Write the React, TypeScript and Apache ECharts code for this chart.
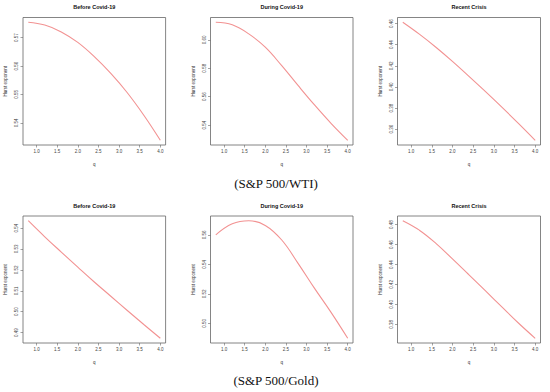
import React, { useEffect, useRef } from "react";
import * as echarts from "echarts";

// q grid
const qValues = [0.8, 1.2, 1.6, 2.0, 2.4, 2.8, 3.2, 3.6, 4.0];

// S&P 500 / WTI
const wtiBefore = [0.5754, 0.5744, 0.572, 0.5683, 0.5633, 0.5574, 0.5506, 0.5427, 0.5339];
const wtiDuring = [0.6124, 0.6106, 0.6042, 0.5948, 0.5818, 0.5677, 0.554, 0.5411, 0.5293];
const wtiRecent = [0.4613, 0.45, 0.4376, 0.4242, 0.41, 0.3955, 0.3806, 0.3653, 0.3495];

// S&P 500 / Gold
const goldBefore = [0.5435, 0.5358, 0.5285, 0.5213, 0.5142, 0.5074, 0.5006, 0.4939, 0.4873];
const goldDuring = [0.56, 0.5675, 0.5696, 0.5664, 0.5565, 0.5405, 0.5235, 0.5072, 0.4898];
const goldRecent = [0.484, 0.4745, 0.4613, 0.4457, 0.4297, 0.4135, 0.3972, 0.3811, 0.366];

// tick labels
const xTicks = [1.0, 1.5, 2.0, 2.5, 3.0, 3.5, 4.0];
const yTicksWtiBefore = [0.54, 0.55, 0.56, 0.57];
const yTicksWtiDuring = [0.54, 0.56, 0.58, 0.6];
const yTicksWtiRecent = [0.36, 0.38, 0.4, 0.42, 0.44, 0.46];
const yTicksGoldBefore = [0.49, 0.5, 0.51, 0.52, 0.53, 0.54];
const yTicksGoldDuring = [0.5, 0.52, 0.54, 0.56];
const yTicksGoldRecent = [0.38, 0.4, 0.42, 0.44, 0.46, 0.48];

const panelTitles = ["Before Covid-19", "During Covid-19", "Recent Crisis"];
const captions = ["(S&P 500/WTI)", "(S&P 500/Gold)"];

const panels = [
  { data: wtiBefore, ticks: yTicksWtiBefore, row: 0, col: 0 },
  { data: wtiDuring, ticks: yTicksWtiDuring, row: 0, col: 1 },
  { data: wtiRecent, ticks: yTicksWtiRecent, row: 0, col: 2 },
  { data: goldBefore, ticks: yTicksGoldBefore, row: 1, col: 0 },
  { data: goldDuring, ticks: yTicksGoldDuring, row: 1, col: 1 },
  { data: goldRecent, ticks: yTicksGoldRecent, row: 1, col: 2 },
];

const colLeft = [23, 210.5, 397.5];
const colWidth = [142.6, 142.5, 143];
const rowTop = [17.5, 216];
const rowHeight = [127.5, 127];
const titleY = [7, 205.5];
const captionY = [183, 380];

const FONT = "'Liberation Sans', Arial, sans-serif";

function padRange(vals: number[]) {
  const mn = Math.min(...vals);
  const mx = Math.max(...vals);
  const p = (mx - mn) * 0.04;
  return [mn - p, mx + p];
}

export default function App() {
  const ref = useRef<HTMLDivElement>(null);
  useEffect(() => {
    document.body.style.margin = "0";
    if (!ref.current) return;
    const chart = echarts.init(ref.current, undefined, { renderer: "svg" });
    const [xmin, xmax] = padRange(qValues);
    const grids: any[] = [];
    const xAxes: any[] = [];
    const yAxes: any[] = [];
    const series: any[] = [];
    const graphics: any[] = [];
    panels.forEach((p, i) => {
      grids.push({
        left: colLeft[p.col],
        top: rowTop[p.row],
        width: colWidth[p.col],
        height: rowHeight[p.row],
        show: true,
        borderColor: "#666",
        borderWidth: 0.8,
        backgroundColor: "transparent",
      });
      const [ymin, ymax] = padRange(p.data);
      xAxes.push({
        type: "value",
        gridIndex: i,
        min: xmin,
        max: xmax,
        name: "q",
        nameLocation: "middle",
        nameGap: 17,
        nameTextStyle: { fontSize: 4.5, color: "#333", fontFamily: FONT },
        axisLine: { show: false },
        splitLine: { show: false },
        axisTick: { show: true, length: 2.5, customValues: xTicks, lineStyle: { color: "#666", width: 0.6 } },
        axisLabel: {
          customValues: xTicks,
          fontSize: 4.5,
          color: "#444",
          margin: 4,
          fontFamily: FONT,
          formatter: (v: number) => v.toFixed(1),
        },
      });
      yAxes.push({
        type: "value",
        gridIndex: i,
        min: ymin,
        max: ymax,
        name: "Hurst exponent",
        nameLocation: "middle",
        nameRotate: 90,
        nameGap: 15,
        nameTextStyle: { fontSize: 4.5, color: "#333", fontFamily: FONT },
        axisLine: { show: false },
        splitLine: { show: false },
        axisTick: { show: true, length: 2.5, customValues: p.ticks, lineStyle: { color: "#666", width: 0.6 } },
        axisLabel: {
          customValues: p.ticks,
          rotate: 90,
          fontSize: 4.5,
          color: "#444",
          margin: 4,
          fontFamily: FONT,
          formatter: (v: number) => v.toFixed(2),
        },
      });
      series.push({
        type: "line",
        xAxisIndex: i,
        yAxisIndex: i,
        data: qValues.map((q, k) => [q, p.data[k]]),
        smooth: 0.4,
        showSymbol: false,
        lineStyle: { color: "#f29292", width: 1.1 },
      });
      graphics.push({
        type: "text",
        x: colLeft[p.col] + colWidth[p.col] / 2,
        y: titleY[p.row],
        style: {
          text: panelTitles[p.col],
          fill: "#111",
          font: `bold 5.5px ${FONT}`,
          textAlign: "center",
          textVerticalAlign: "middle",
        },
      });
    });
    captions.forEach((c, r) => {
      graphics.push({
        type: "text",
        x: 276,
        y: captionY[r],
        style: {
          text: c,
          fill: "#111",
          font: `13px 'Liberation Serif', 'Times New Roman', serif`,
          textAlign: "center",
          textVerticalAlign: "middle",
        },
      });
    });
    chart.setOption({
      animation: false,
      backgroundColor: "#fff",
      grid: grids,
      xAxis: xAxes,
      yAxis: yAxes,
      series,
      graphic: graphics,
    });
    return () => chart.dispose();
  }, []);
  return <div ref={ref} style={{ width: 550, height: 392 }} />;
}
